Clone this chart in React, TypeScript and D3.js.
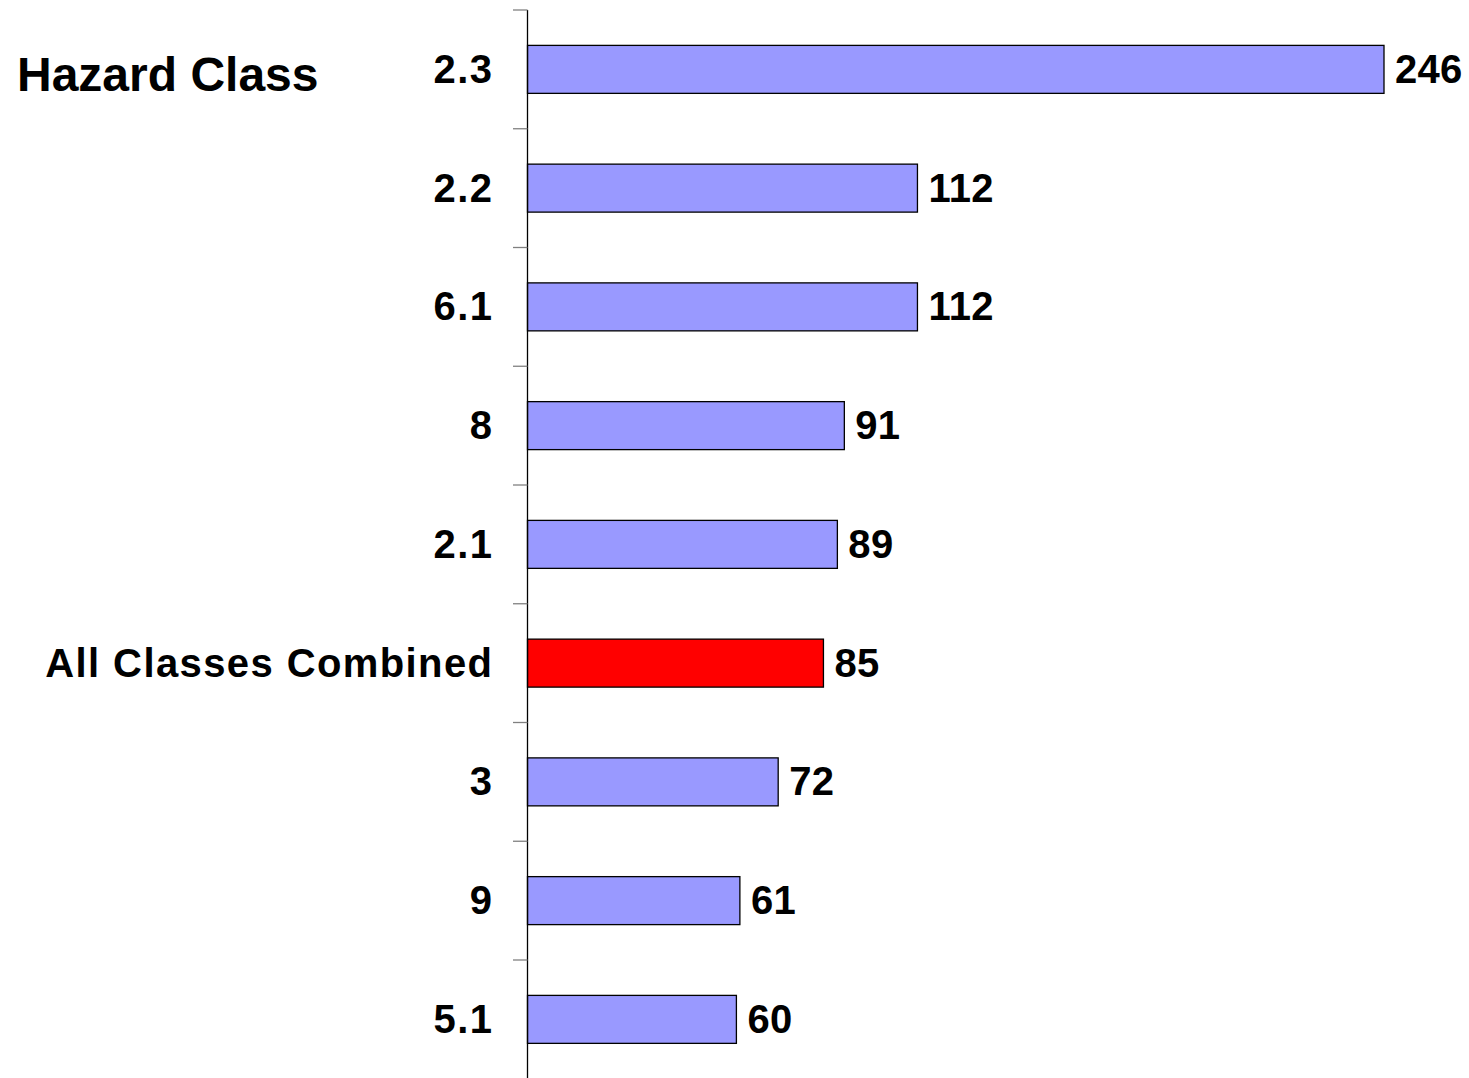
import React from "react";
import * as d3 from "d3";

const categories = ["2.3", "2.2", "6.1", "8", "2.1", "All Classes Combined", "3", "9", "5.1"];
const values = [246, 112, 112, 91, 89, 85, 72, 61, 60];
const highlight = ["All Classes Combined"];
const title = "Hazard Class";

const W = 1469;
const H = 1078;

export default function App() {
  const x = d3.scaleLinear().domain([0, 246]).range([527.5, 1384]);
  const y = d3.scaleBand<string>().domain(categories).range([10, 1078.75]).paddingInner(0.596).paddingOuter(0.298);
  const step = y.step();
  const font = "'Liberation Sans', Arial, Helvetica, sans-serif";
  const ticks = d3.range(categories.length + 1).map((i) => 10 + i * step);
  const catSpacing = 1.4;
  const valSpacing = 0.3;
  return (
    <svg width={W} height={H} style={{ position: "absolute", left: 0, top: 0, background: "#fff" }} fontFamily={font}>
      <rect x={0} y={0} width={W} height={H} fill="#fff" />
      {categories.map((c, i) => (
        <rect
          key={c}
          x={x(0)}
          y={y(c)!}
          width={x(values[i]) - x(0)}
          height={y.bandwidth()}
          fill={highlight.includes(c) ? "#FF0000" : "#9999FF"}
          stroke="#000"
          strokeWidth={1.3}
        />
      ))}
      <line x1={527.5} x2={527.5} y1={10} y2={H} stroke="#000" strokeWidth={1.3} />
      {ticks.map((t, i) => (
        <line key={i} x1={513} x2={527.5} y1={t} y2={t} stroke="#808080" strokeWidth={1.3} />
      ))}
      {categories.map((c) => (
        <text
          key={c}
          x={492 + catSpacing}
          y={y(c)! + y.bandwidth() / 2}
          dy="0.34em"
          textAnchor="end"
          fontSize={40}
          fontWeight="bold"
          letterSpacing={catSpacing}
          fill="#000"
        >
          {c}
        </text>
      ))}
      {categories.map((c, i) => (
        <text
          key={c + "v"}
          x={x(values[i]) + 11}
          y={y(c)! + y.bandwidth() / 2}
          dy="0.34em"
          fontSize={40}
          fontWeight="bold"
          letterSpacing={valSpacing}
          fill="#000"
        >
          {values[i]}
        </text>
      ))}
      <text x={17} y={91} fontSize={48} fontWeight="bold" fill="#000">
        {title}
      </text>
    </svg>
  );
}
